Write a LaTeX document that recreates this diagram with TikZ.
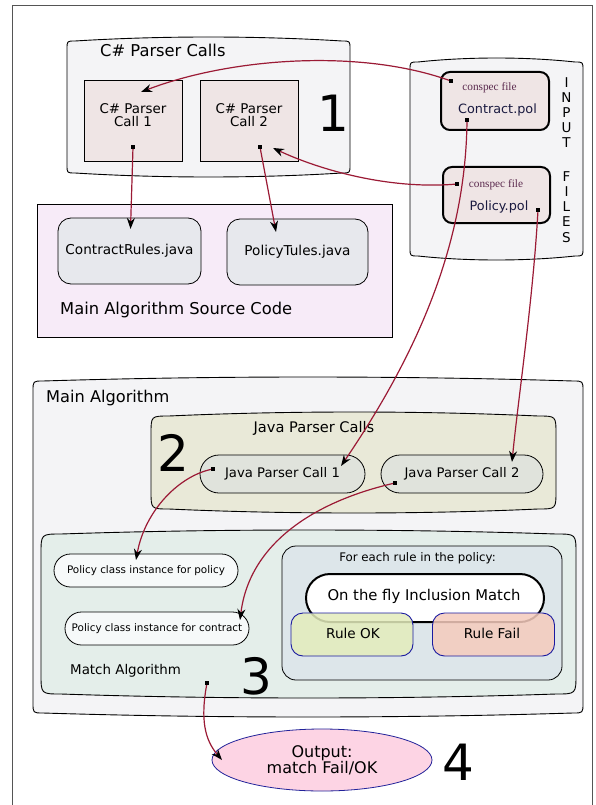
\documentclass[tikz,border=0pt]{standalone}
\usepackage{fontspec}
\setmainfont{DejaVu Sans}
\newfontfamily\filetag{Liberation Serif}
\usetikzlibrary{arrows.meta,shapes.geometric}

\definecolor{framegray}{HTML}{555555}
\definecolor{grpfill}{HTML}{F4F4F6}
\definecolor{callfill}{HTML}{EFE5E5}
\definecolor{srcfill}{HTML}{F7EBF8}
\definecolor{javafill}{HTML}{E7E8ED}
\definecolor{jpcgrp}{HTML}{E9E9D8}
\definecolor{jpcfill}{HTML}{E0E3DC}
\definecolor{matchfill}{HTML}{E4EEEA}
\definecolor{instfill}{HTML}{F6F9F9}
\definecolor{rulefill}{HTML}{DDE6EA}
\definecolor{okfill}{HTML}{E3ECBB}
\definecolor{failfill}{HTML}{F5CBBD}
\definecolor{ruleborder}{HTML}{1A1AA0}
\definecolor{outfill}{HTML}{FDD4E4}
\definecolor{outborder}{HTML}{22229A}
\definecolor{linkred}{HTML}{9B1A35}
\definecolor{tagcol}{HTML}{5B2A4E}
\definecolor{filecol}{HTML}{1A1A40}

% container with gently bowed top and bottom edges
\newcommand{\drumbox}[7]{% #1 options, #2 x1, #3 y1, #4 x2, #5 y2, #6 bow, #7 corner
  \draw[#1] ({#2},{#3+#6+#7}) .. controls ({#2},{#3+#6}) .. ({#2+#7},{#3+#6})
    .. controls ({#2+(#4-#2)/3},{#3-#6/3}) and ({#4-(#4-#2)/3},{#3-#6/3}) .. ({#4-#7},{#3+#6})
    .. controls ({#4},{#3+#6}) .. ({#4},{#3+#6+#7})
    -- ({#4},{#5-#6-#7}) .. controls ({#4},{#5-#6}) .. ({#4-#7},{#5-#6})
    .. controls ({#4-(#4-#2)/3},{#5+#6/3}) and ({#2+(#4-#2)/3},{#5+#6/3}) .. ({#2+#7},{#5-#6})
    .. controls ({#2},{#5-#6}) .. ({#2},{#5-#6-#7}) -- cycle;}

\newcommand{\fs}[1]{\fontsize{#1}{#1}\selectfont}

\tikzset{
  link/.style={draw=linkred, line width=1.2pt,
    -{Stealth[length=11pt,width=8pt,inset=3.5pt,color=black]}},
  dotmark/.style={rectangle, fill=black, inner sep=0pt, minimum size=3.4pt},
  grpline/.style={draw=black, line width=0.9pt},
  callbox/.style={rectangle, draw=black, line width=0.9pt,
    fill=callfill, minimum width=98pt, minimum height=81pt},
  filebox/.style={rectangle, rounded corners=9pt, draw=black, line width=2pt, fill=callfill},
  javabox/.style={rectangle, rounded corners=13pt, draw=black, line width=0.8pt, fill=javafill,
    minimum height=66pt, font=\fs{13.6}},
  pill/.style={rectangle, draw=black, line width=0.8pt},
  rulebox/.style={rectangle, rounded corners=12pt, draw=ruleborder, line width=0.9pt,
    minimum width=122pt, minimum height=43pt, fill opacity=0.85, text opacity=1},
  bignum/.style={font=\fs{50}, inner sep=0pt},
  lbl/.style={inner sep=0pt},
}

\begin{document}
\begin{tikzpicture}[x=1pt,y=-1pt]
\useasboundingbox (0,0) rectangle (595,805);
\fill[white] (0,0) rectangle (595,805);
\draw[framegray, line width=0.8pt] (12,812) -- (12,5) -- (592,5) -- (592,812);

% ---- C# parser stage
\drumbox{grpline, fill=grpfill}{67}{37}{350}{177}{4}{8}
\node[lbl, anchor=west, font=\fs{16.3}] (csgroup) at (100,50) {C\# Parser Calls};
\node[callbox] (call1) at (133,120.5) {};
\node[callbox] (call2) at (249,120.5) {};
\node[lbl, align=center, font=\fs{13.4}] (call1txt) at (133,115) {C\# Parser\\Call 1};
\node[lbl, align=center, font=\fs{13.4}] (call2txt) at (249,115) {C\# Parser\\Call 2};
\node[bignum] (num1) at (333,113) {1};
\node[dotmark] (c1d) at (133,147) {};
\node[dotmark] (c2d) at (260,147) {};

% ---- input files
\drumbox{grpline, fill=grpfill}{410}{58}{583}{260}{4}{8}
\node[filebox, minimum width=108pt, minimum height=58pt] (contract) at (495,101) {};
\node[lbl, font=\filetag\fs{11.3}, text=tagcol] (ctag) at (489.5,88) {conspec file};
\node[lbl, font=\fs{12.8}, text=filecol] (cname) at (497.5,110) {Contract.pol};
\node[filebox, minimum width=107pt, minimum height=56pt] (policy) at (496.5,195) {};
\node[lbl, font=\filetag\fs{11.3}, text=tagcol] (ptag) at (496,185) {conspec file};
\node[lbl, font=\fs{12.8}, text=filecol] (pname) at (499,207) {Policy.pol};
\node[dotmark] (cd1) at (451,81) {};
\node[dotmark] (cd2) at (467,120) {};
\node[dotmark] (pd1) at (457,184) {};
\node[dotmark] (pd2) at (538,210) {};
\foreach \ch/\yy [count=\i] in {I/83,N/98,P/113,U/128,T/143,F/177,I/192,L/207,E/222,S/238}
  \node[lbl, font=\fs{13.5}] (inl\i) at (566.5,\yy) {\ch};

% ---- generated source code
\node[rectangle, draw=black, line width=0.8pt, fill=srcfill, minimum width=355pt, minimum height=133pt] (src) at (214.5,270.5) {};
\node[lbl, anchor=west, font=\fs{16.3}] (srctxt) at (60,310) {Main Algorithm Source Code};
\node[javabox, minimum width=143pt] (crj) at (129.5,251) {ContractRules.java};
\node[javabox, minimum width=141pt] (ptj) at (297.5,252) {PolicyTules.java};

% ---- main algorithm
\drumbox{grpline, fill=grpfill}{33}{377}{583}{717}{4}{10}
\node[lbl, anchor=west, font=\fs{16.2}] (maintxt) at (46,398) {Main Algorithm};
\drumbox{grpline, fill=jpcgrp}{151}{412}{556}{513}{4}{18}
\node[lbl, font=\fs{14.6}] (jpctxt) at (314,428) {Java Parser Calls};
\node[bignum] (num2) at (173,453) {2};
\node[pill, fill=jpcfill, rounded corners=19pt, minimum width=165pt, minimum height=38pt,
  font=\fs{13.2}] (jpc1) at (282.5,474) {Java Parser Call 1};
\node[pill, fill=jpcfill, rounded corners=19pt, minimum width=162pt, minimum height=38pt,
  font=\fs{13.2}] (jpc2) at (462,474) {Java Parser Call 2};
\node[dotmark] (j1d) at (213,469) {};
\node[dotmark] (j2d) at (395,483) {};

\drumbox{grpline, fill=matchfill}{41}{530}{576}{698}{4}{20}
\node[lbl, anchor=west, font=\fs{13.4}] (matchtxt) at (70,671) {Match Algorithm};
\node[bignum] (num3) at (256,676) {3};
\node[pill, fill=instfill, rounded corners=16.5pt, minimum width=184pt, minimum height=33pt,
  font=\fs{10.4}] (inst1) at (146,570.5) {Policy class instance for policy};
\node[pill, fill=instfill, rounded corners=16.5pt, minimum width=184pt, minimum height=33pt,
  font=\fs{10.4}] (inst2) at (157,628.5) {Policy class instance for contract};
\node[dotmark] (md) at (207,683) {};

\node[rectangle, rounded corners=14pt, draw=black, line width=0.8pt, fill=rulefill,
  minimum width=280pt, minimum height=134pt] (foreach) at (422,613) {};
\node[lbl, font=\fs{11.8}] (foreachtxt) at (417.5,558) {For each rule in the policy:};
\node[pill, fill=white, line width=2pt, rounded corners=24pt, minimum width=238pt, minimum height=48pt] (otf) at (425,598) {};
\node[lbl, font=\fs{14.8}] (otftxt) at (424,596) {On the fly Inclusion Match};
\node[rulebox, fill=okfill] (ruleok) at (352,634.5) {};
\node[lbl, font=\fs{13.6}] (ruleoktxt) at (353,633) {Rule OK};
\node[rulebox, fill=failfill] (rulefail) at (493.5,634.5) {};
\node[lbl, font=\fs{13.6}] (rulefailtxt) at (492,633) {Rule Fail};

% ---- output
\node[ellipse, draw=outborder, line width=0.8pt, fill=outfill, minimum width=220pt, minimum height=62pt,
  inner sep=0pt, align=center, font=\fs{16}] (out) at (322,760) {Output:\\match Fail/OK};
\node[bignum] (num4) at (458,762) {4};

% ---- arrow targets
\coordinate (t1) at (130.5,229);
\coordinate (t2) at (276,232);
\coordinate (t3) at (141,92);
\coordinate (t4) at (273,148);
\coordinate (t5) at (341,466);
\coordinate (t6) at (512,462);
\coordinate (t7) at (136,560);
\coordinate (t8) at (240,620);
\coordinate (t9) at (222,760);

\draw[link] (c1d.center) -- (t1);
\draw[link] (c2d.center) -- (t2);
\draw[link] (cd1.center) .. controls (360,48) and (230,58) .. (t3);
\draw[link] (pd1.center) .. controls (390,190) and (320,170) .. (t4);
\draw[link] (cd2.center) .. controls (466,240) and (420,350) .. (t5);
\draw[link] (pd2.center) .. controls (533,300) and (518,400) .. (t6);
\draw[link] (j1d.center) .. controls (180,475) and (145,510) .. (t7);
\draw[link] (j2d.center) .. controls (320,500) and (250,540) .. (t8);
\draw[link] (md.center) .. controls (200,720) and (205,740) .. (t9);

% start markers on top of the links
\foreach \d in {c1d,c2d,cd1,cd2,pd1,pd2,j1d,j2d,md}
  \fill[black] (\d.center) +(-1.7,-1.7) rectangle +(1.7,1.7);
\end{tikzpicture}
\end{document}
